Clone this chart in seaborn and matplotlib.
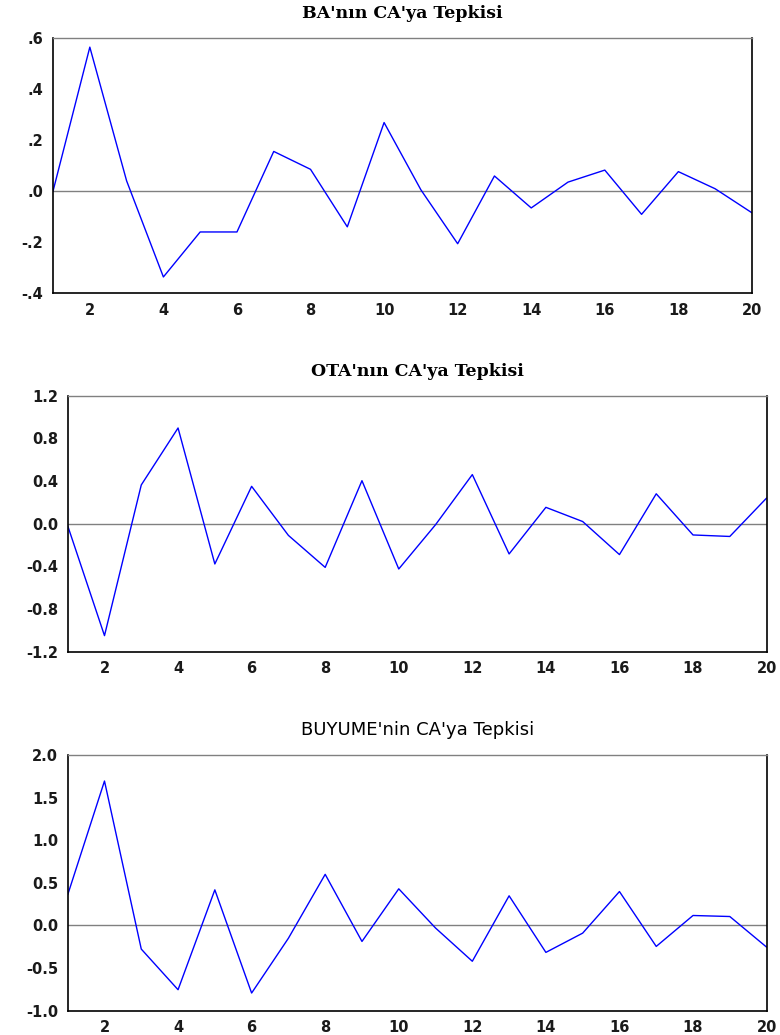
import matplotlib
matplotlib.use("Agg")
import matplotlib.pyplot as plt
import seaborn as sns
import pandas as pd

periods = list(range(1, 21))

ba_resp = [0.0, 0.563, 0.04, -0.336, -0.16, -0.16, 0.155, 0.085, -0.14, 0.268,
           0.005, -0.206, 0.059, -0.066, 0.035, 0.082, -0.091, 0.076, 0.009, -0.085]
ota_resp = [-0.02, -1.05, 0.363, 0.897, -0.378, 0.35, -0.11, -0.41, 0.403, -0.425,
            -0.01, 0.46, -0.284, 0.153, 0.02, -0.29, 0.28, -0.106, -0.12, 0.24]
buyume_resp = [0.36, 1.695, -0.277, -0.754, 0.418, -0.793, -0.15, 0.60, -0.1875, 0.43,
               -0.03, -0.42, 0.348, -0.316, -0.09, 0.398, -0.246, 0.117, 0.105, -0.254]

titles = ["BA'nın CA'ya Tepkisi", "OTA'nın CA'ya Tepkisi", "BUYUME'nin CA'ya Tepkisi"]

ba_ticks = [-0.4, -0.2, 0.0, 0.2, 0.4, 0.6]
ba_labels = ["-.4", "-.2", ".0", ".2", ".4", ".6"]
ota_ticks = [-1.2, -0.8, -0.4, 0.0, 0.4, 0.8, 1.2]
ota_labels = ["-1.2", "-0.8", "-0.4", "0.0", "0.4", "0.8", "1.2"]
buy_ticks = [-1.0, -0.5, 0.0, 0.5, 1.0, 1.5, 2.0]
buy_labels = ["-1.0", "-0.5", "0.0", "0.5", "1.0", "1.5", "2.0"]

sns.set_style("white")
plt.rcParams['font.family'] = ['DejaVu Sans']
plt.rcParams['text.color'] = 'black'

# serif titles for the first two panels, sans for the last one
title_fonts = [dict(family="DejaVu Serif", fontweight="bold", fontsize=12.5),
               dict(family="DejaVu Serif", fontweight="bold", fontsize=12.5),
               dict(family="DejaVu Sans", fontweight="normal", fontsize=13)]

fig = plt.figure(figsize=(7.8, 10.35), dpi=100)
boxes = [[0.068, 0.7166, 0.896, 0.247],
         [0.0868, 0.3704, 0.896, 0.2473],
         [0.0868, 0.0235, 0.896, 0.247]]

series = [(ba_resp, ba_ticks, ba_labels), (ota_resp, ota_ticks, ota_labels),
          (buyume_resp, buy_ticks, buy_labels)]

for i, (vals, yt, yl) in enumerate(series):
    ax = fig.add_axes(boxes[i])
    df = pd.DataFrame({"period": periods, "resp": vals})
    ax.axhline(0, color="#808080", lw=1.0, zorder=1)
    sns.lineplot(data=df, x="period", y="resp", color="#0000FF", lw=1.0, ax=ax, zorder=2)
    ax.set_xlim(1, 20)
    ax.set_ylim(yt[0], yt[-1])
    ax.set_xticks(periods)
    ax.set_xticklabels([str(p) if p % 2 == 0 else "" for p in periods])
    ax.set_yticks(yt)
    ax.set_yticklabels(yl)
    ax.set_xlabel("")
    ax.set_ylabel("")
    ax.tick_params(axis="both", direction="out", length=4, width=1, colors="black",
                   labelsize=10.5, pad=3)
    for lab in ax.get_xticklabels() + ax.get_yticklabels():
        lab.set_fontweight("bold")
        lab.set_color("#1a1a1a")
    for side in ["left", "bottom", "right"]:
        ax.spines[side].set_color("black")
        ax.spines[side].set_linewidth(1.2)
    ax.spines["top"].set_color("#808080")
    ax.spines["top"].set_linewidth(1.0)
    ax.set_title(titles[i], color="black", pad=14.5, **title_fonts[i])

plt.savefig("out.png", dpi=100)
